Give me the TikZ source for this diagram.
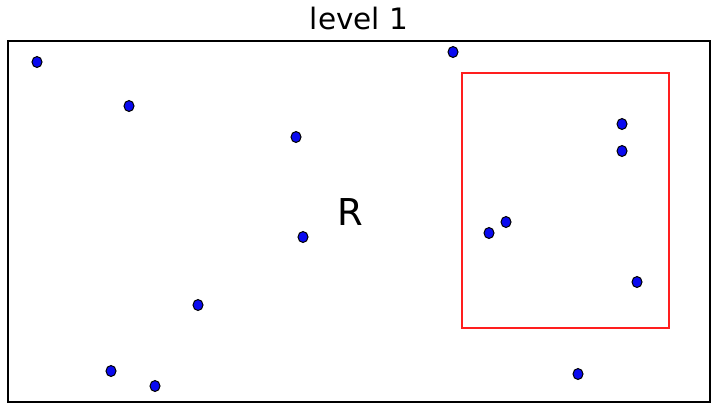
\documentclass[tikz,border=0pt]{standalone}
\usepackage{fontspec}
\setmainfont{DejaVu Sans}
\definecolor{ptblue}{RGB}{10,10,240}
\definecolor{boxred}{RGB}{255,30,30}
\begin{document}
\begin{tikzpicture}[x=1pt,y=-1pt,
  dot/.style={fill=ptblue,draw=black,line width=1pt}]
\useasboundingbox (0,0) rectangle (718,410);
\node[font=\fontsize{29.5}{34}\selectfont] (title) at (359,19) {level 1};
\node[draw=black,line width=1.6pt,minimum width=702pt,minimum height=361pt,inner sep=0pt] (outer) at (359,221.5) {};
\node[draw=boxred,line width=1.2pt,minimum width=207pt,minimum height=255pt,inner sep=0pt] (red) at (565.5,200.5) {};
\node[font=\fontsize{37}{40}\selectfont] (R) at (350,212) {R};
\foreach \x/\y in {37/62, 129/106, 453/52, 296/137, 622/124, 622/151, 506/222, 489/233, 303/237, 637/282, 198/305, 111/371, 155/386, 578/374}
  \draw[dot] (\x,\y) ellipse [x radius=5pt, y radius=5.5pt];
\end{tikzpicture}
\end{document}
